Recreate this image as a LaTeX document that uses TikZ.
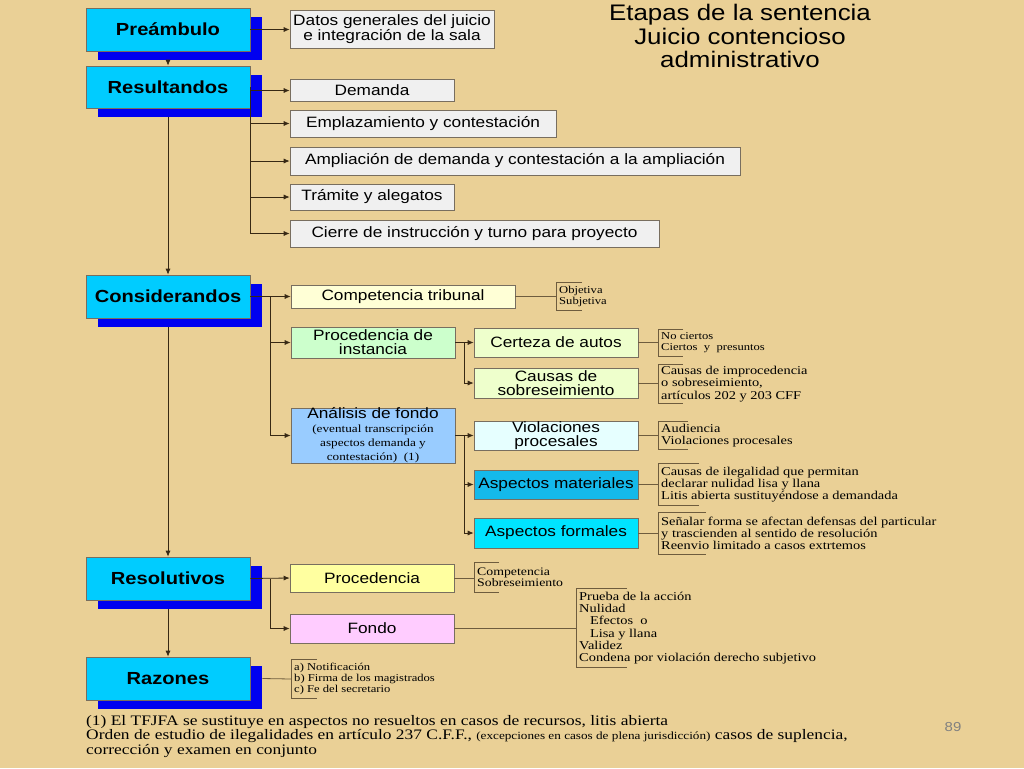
\documentclass[tikz,border=0pt]{standalone}
\usepackage{fontspec}
\setmainfont{Liberation Serif}[FakeStretch=1.2]
\setsansfont{Liberation Sans}[FakeStretch=1.15]
\usetikzlibrary{arrows.meta,positioning}
\definecolor{papyrus}{RGB}{234,208,150}
\definecolor{mainfill}{RGB}{0,204,255}
\definecolor{shadblue}{RGB}{0,0,240}
\definecolor{grayfill}{RGB}{240,240,240}
\definecolor{boxedge}{RGB}{120,110,95}
\definecolor{linecol}{RGB}{55,40,20}
\definecolor{brkcol}{RGB}{110,92,62}
\definecolor{compfill}{RGB}{255,255,214}
\definecolor{pifill}{RGB}{204,255,204}
\definecolor{certfill}{RGB}{238,255,204}
\definecolor{anfill}{RGB}{153,204,255}
\definecolor{violfill}{RGB}{230,255,255}
\definecolor{matfill}{RGB}{20,185,235}
\definecolor{formfill}{RGB}{0,228,255}
\definecolor{procfill}{RGB}{255,255,160}
\definecolor{fondofill}{RGB}{255,204,255}
\pgfdeclarelayer{bg}
\pgfdeclarelayer{shad}
\pgfsetlayers{bg,shad,main}
\newcommand\smallser{\rmfamily\fontsize{11}{12}\selectfont}
\begin{document}
\begin{tikzpicture}[x=1pt,y=-1pt,
  mainbox/.style={draw=boxedge,line width=0.6pt,fill=mainfill,minimum width=164,inner sep=0pt,
    font=\sffamily\bfseries\fontsize{17.5}{19}\selectfont},
  subbox/.style={draw=boxedge,line width=0.6pt,inner sep=0pt,align=center,
    font=\sffamily\fontsize{15}{14}\selectfont},
  graybox/.style={subbox,fill=grayfill},
  arr/.style={draw=linecol,line width=0.8pt,-{Latex[length=6pt,width=5pt]}},
  conn/.style={draw=linecol,line width=0.8pt},
  brkline/.style={draw=brkcol,line width=0.8pt},
  brtext/.style={anchor=west,align=left,inner xsep=3pt,inner ysep=0pt},
]
\begin{pgfonlayer}{bg}
\fill[papyrus] (0,0) rectangle (1024,768);
\end{pgfonlayer}
\useasboundingbox (0,0) rectangle (1024,768);

% title
\node[align=center,font=\sffamily\fontsize{22.5}{23.5}\selectfont] (title) at (740,36)
  {Etapas de la sentencia\\Juicio contencioso\\administrativo};

% main boxes
\node[mainbox,minimum height=43] (pre) at (168,29.5) {Preámbulo};
\node[mainbox,minimum height=42] (res) at (168,87) {Resultandos};
\node[mainbox,minimum height=43] (con) at (168,296.5) {Considerandos};
\node[mainbox,minimum height=43] (rsl) at (168,578.5) {Resolutivos};
\node[mainbox,minimum height=43] (raz) at (168,678.5) {Razones};
\begin{pgfonlayer}{shad}
\foreach \n in {pre,res,con,rsl,raz}{
  \fill[shadblue] ([shift={(12,9)}]\n.north west) rectangle ([shift={(12,9)}]\n.south east);
}
\end{pgfonlayer}

% Preambulo / Resultandos children
\node[graybox,minimum width=204,minimum height=38] (datos) at (392,29)
  {Datos generales del juicio\\e integración de la sala};
\node[graybox,minimum width=164,minimum height=22] (dem) at (372,90.5) {Demanda};
\node[graybox,minimum width=266,minimum height=27] (emp) at (423,123.5) {Emplazamiento y contestación};
\node[graybox,minimum width=450,minimum height=28] (amp) at (515,161) {Ampliación de demanda y contestación a la ampliación};
\node[graybox,minimum width=164,minimum height=26] (tra) at (372,197) {Trámite y alegatos};
\node[graybox,minimum width=369,minimum height=27] (cie) at (474.5,233.5) {Cierre de instrucción y turno para proyecto};

% Considerandos children
\node[subbox,fill=compfill,minimum width=224,minimum height=23] (comp) at (403,296.5) {Competencia tribunal};
\node[subbox,fill=pifill,minimum width=164,minimum height=31] (pi) at (373,342.5) {Procedencia de\\instancia};
\node[subbox,fill=anfill,minimum width=164,minimum height=53] (an) at (373,435.5)
  {Análisis de fondo\\\smallser (eventual transcripción\\\smallser aspectos demanda y\\\smallser contestación)\ \ (1)};
\node[subbox,fill=certfill,minimum width=164,minimum height=29] (cert) at (556,342.5) {Certeza de autos};
\node[subbox,fill=certfill,minimum width=164,minimum height=30] (caus) at (556,383) {Causas de\\sobreseimiento};
\node[subbox,fill=violfill,minimum width=164,minimum height=29] (viol) at (556,435.5) {Violaciones\\procesales};
\node[subbox,fill=matfill,minimum width=164,minimum height=29] (mat) at (556,484.5) {Aspectos materiales};
\node[subbox,fill=formfill,minimum width=164,minimum height=30] (form) at (556,533) {Aspectos formales};

% Resolutivos children
\node[subbox,fill=procfill,minimum width=164,minimum height=28] (proc) at (372,578) {Procedencia};
\node[subbox,fill=fondofill,minimum width=164,minimum height=29] (fondo) at (372,628.5) {Fondo};

% bracket texts
\node[brtext,minimum height=27,font=\rmfamily\fontsize{10.5}{11}\selectfont] (bcomp) at (556,296.5) {Objetiva\\Subjetiva};
\node[brtext,minimum height=26,font=\rmfamily\fontsize{10.5}{11}\selectfont] (bcert) at (658,343) {No ciertos\\Ciertos\ \ y\ \ presuntos};
\node[brtext,minimum height=38,font=\rmfamily\fontsize{12}{12.3}\selectfont] (bcaus) at (658,384)
  {Causas de improcedencia\\o sobreseimiento,\\artículos 202 y 203 CFF};
\node[brtext,minimum height=27,font=\rmfamily\fontsize{12}{12.7}\selectfont] (bviol) at (658,435.5)
  {Audiencia\\Violaciones procesales};
\node[brtext,minimum height=41,font=\rmfamily\fontsize{12}{12.3}\selectfont] (bmat) at (658,484.5)
  {Causas de ilegalidad que permitan\\declarar nulidad lisa y llana\\Litis abierta sustituyéndose a demandada};
\node[brtext,minimum height=41,font=\rmfamily\fontsize{12}{12.3}\selectfont] (bform) at (658,533.5)
  {Señalar forma se afectan defensas del particular\\y trascienden al sentido de resolución\\Reenvio limitado a casos extrtemos};
\node[brtext,minimum height=29,font=\rmfamily\fontsize{11.5}{11.3}\selectfont] (bproc) at (474,577.5)
  {Competencia\\Sobreseimiento};
\node[brtext,minimum height=78,font=\rmfamily\fontsize{12}{12.3}\selectfont] (bfondo) at (576,628)
  {Prueba de la acción\\Nulidad\\\ \ \ Efectos\ \ o\\\ \ \ Lisa y llana\\Validez\\Condena por violación derecho subjetivo};
\node[brtext,minimum height=38,font=\rmfamily\fontsize{10.5}{11}\selectfont] (braz) at (291,679)
  {a) Notificación\\b) Firma de los magistrados\\c) Fe del secretario};

% brackets
\foreach \b/\t in {bcomp/26,bcert/25,bcaus/25,bviol/30,bmat/41,bform/48,bproc/25,bfondo/51,braz/26}{
  \draw[brkline] ([xshift=\t pt]\b.north west) -- (\b.north west) -- (\b.south west) -- ([xshift=\t pt]\b.south west);
}

% main vertical arrows
\draw[arr] ([shift={(0,9)}]pre.south) -- (res.north);
\draw[arr] ([shift={(0,9)}]res.south) -- (con.north);
\draw[arr] ([shift={(0,9)}]con.south) -- (rsl.north);
\draw[arr] ([shift={(0,9)}]rsl.south) -- (raz.north);

% Preambulo
\draw[arr] (pre.east) -- (datos.west |- pre.east);
% Resultandos trunk at x=250
\draw[conn] (res.east) -- (res.east |- cie.west);
\foreach \c in {dem,emp,amp,tra,cie}{
  \draw[arr] (res.east |- \c.west) -- (\c.west);
}
% Considerandos
\coordinate (ctr) at ([xshift=20pt]con.east);
\draw[arr] (con.east) -- (comp.west);
\draw[conn] (ctr) -- (ctr |- an.west);
\draw[arr] (ctr |- pi.west) -- (pi.west);
\draw[arr] (ctr |- an.west) -- (an.west);
% Procedencia de instancia
\coordinate (ptr) at ([xshift=9pt]pi.east);
\draw[arr] (pi.east) -- (cert.west);
\draw[conn] (ptr) -- (ptr |- caus.west);
\draw[arr] (ptr |- caus.west) -- (caus.west);
% Analisis
\coordinate (atr) at ([xshift=9pt]an.east);
\draw[arr] (an.east) -- (viol.west);
\draw[conn] (atr) -- (atr |- form.west);
\draw[arr] (atr |- mat.west) -- (mat.west);
\draw[arr] (atr |- form.west) -- (form.west);
% Resolutivos
\coordinate (rtr) at ([xshift=20pt]rsl.east);
\draw[arr] (rsl.east) -- (proc.west);
\draw[conn] (rtr) -- (rtr |- fondo.west);
\draw[arr] (rtr |- fondo.west) -- (fondo.west);

% bracket connectors
\draw[brkline] (comp.east) -- (bcomp.west |- comp.east);
\draw[brkline] (cert.east) -- (bcert.west |- cert.east);
\draw[brkline] (caus.east) -- (bcaus.west |- caus.east);
\draw[brkline] (viol.east) -- (bviol.west |- viol.east);
\draw[brkline] (mat.east) -- (bmat.west |- mat.east);
\draw[brkline] (form.east) -- (bform.west |- form.east);
\draw[brkline] (proc.east) -- (bproc.west |- proc.east);
\draw[brkline] (fondo.east) -- (bfondo.west |- fondo.east);
\draw[brkline] ([xshift=12pt]raz.east) -- (braz.west);

% footnote
\node[anchor=north west,align=left,inner sep=0pt,font=\rmfamily\fontsize{14.5}{14.7}\selectfont] (foot) at (86,715)
  {(1) El TFJFA se sustituye en aspectos no resueltos en casos de recursos, litis abierta\\
   Orden de estudio de ilegalidades en artículo 237 C.F.F., {\fontsize{11}{11}\selectfont(excepciones en casos de plena jurisdicción)} casos de suplencia,\\
   corrección y examen en conjunto};

% page number
\node[font=\sffamily\fontsize{13}{13}\selectfont,text=gray] (pnum) at (953,727) {89};
\end{tikzpicture}
\end{document}
